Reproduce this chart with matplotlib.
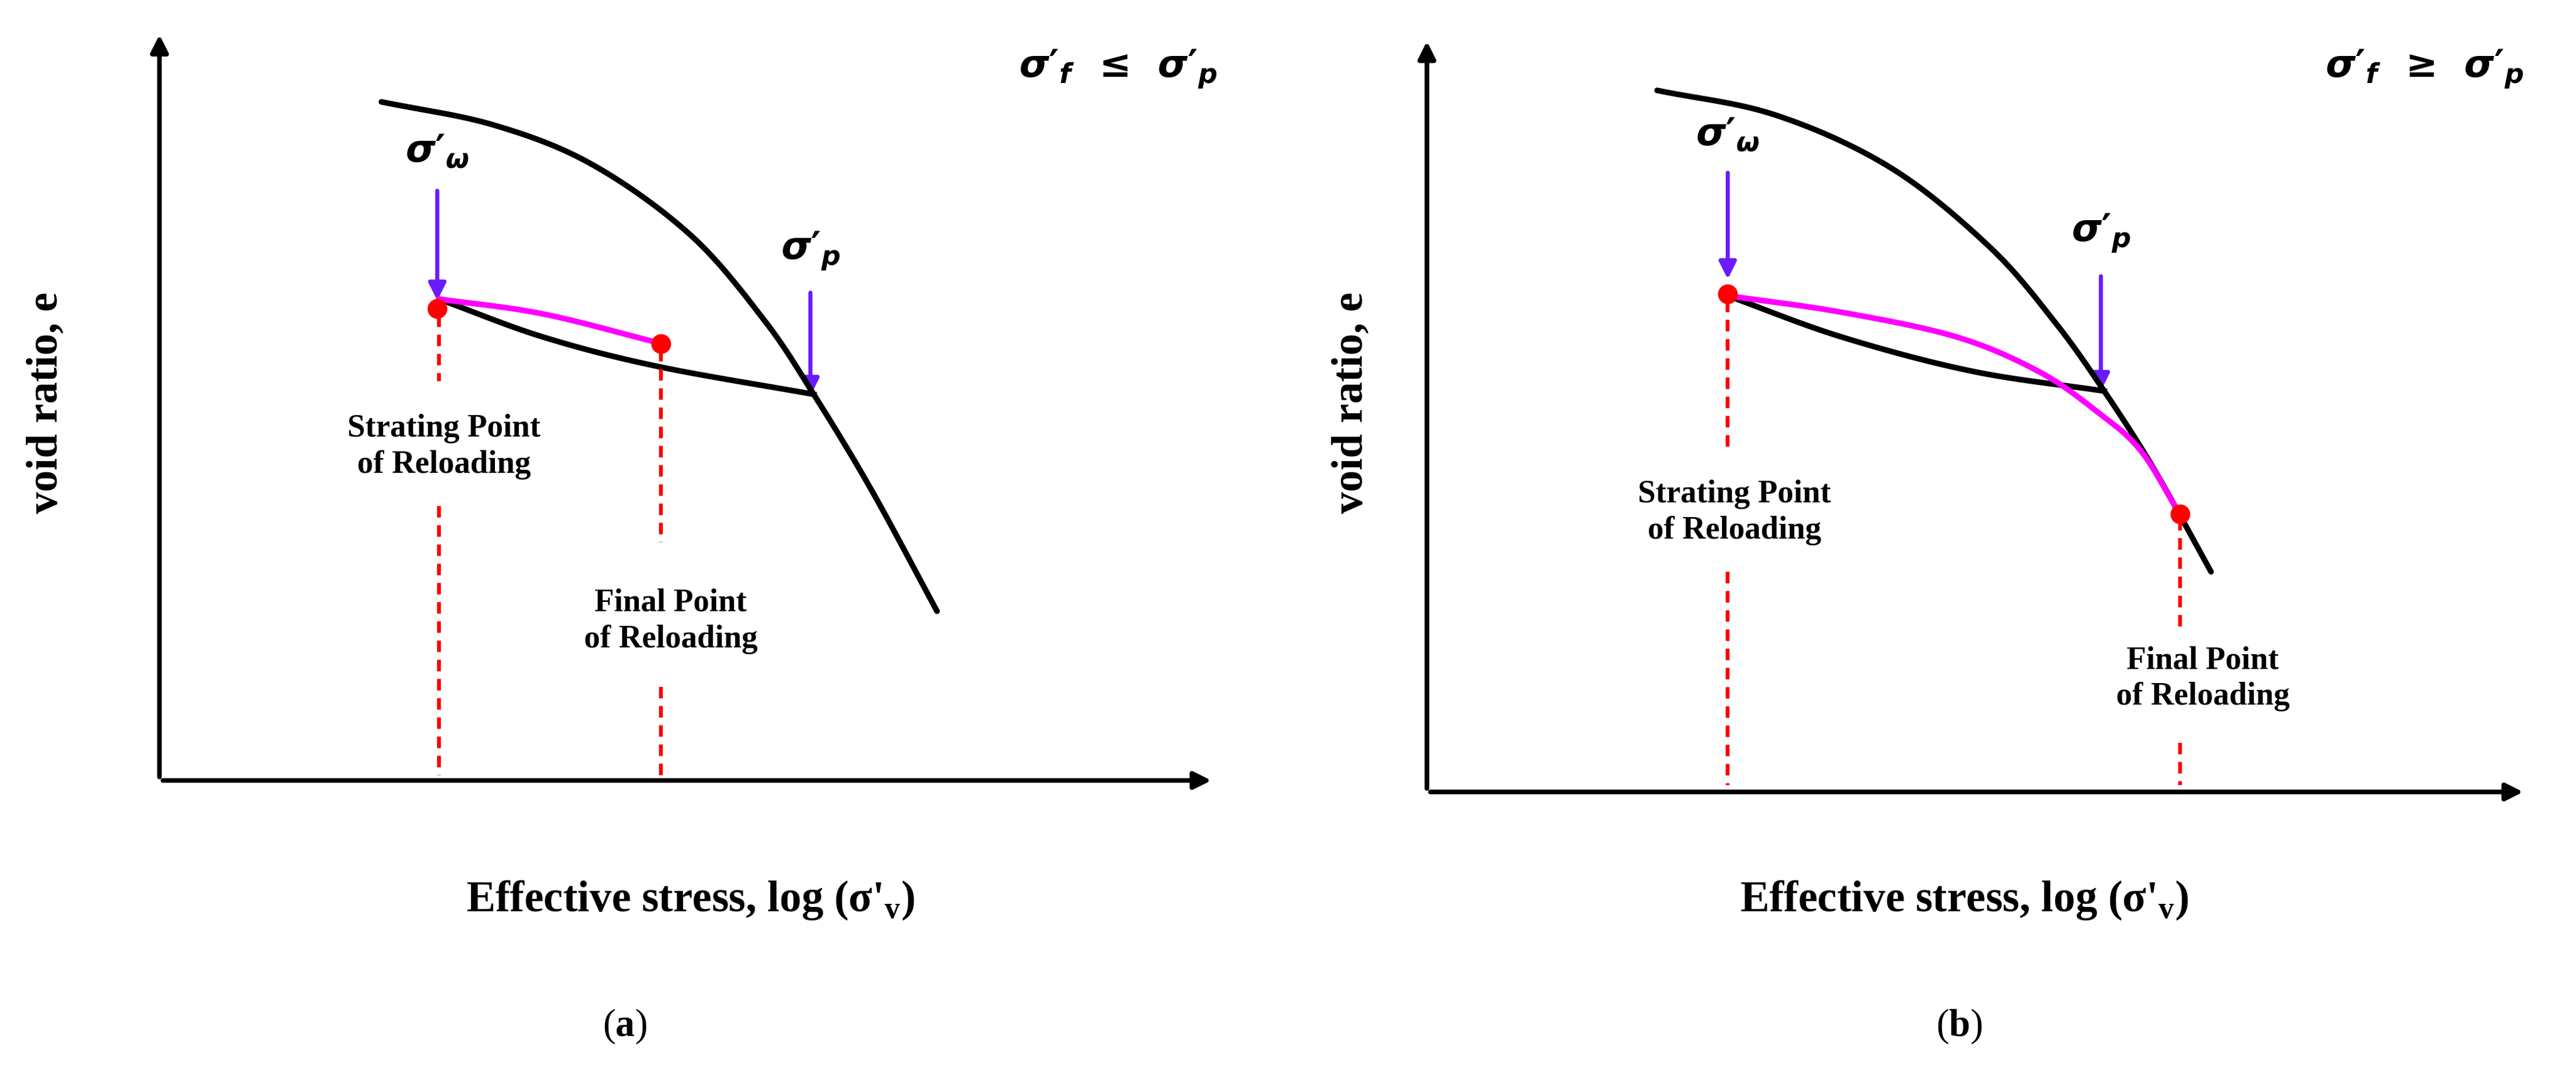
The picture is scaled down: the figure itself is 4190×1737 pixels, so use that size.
import numpy as np
import matplotlib
import matplotlib.pyplot as plt
from matplotlib.patches import FancyArrowPatch

matplotlib.rcParams['mathtext.fontset'] = 'custom'
matplotlib.rcParams['mathtext.it'] = 'DejaVu Sans:italic:bold'
matplotlib.rcParams['mathtext.rm'] = 'DejaVu Sans:bold'
matplotlib.rcParams['mathtext.bf'] = 'Liberation Serif:bold'

# 坐标按参考图(1567x650)像素给出
W, H = 1567, 650
SERIF = 'Liberation Serif'

# ---- (a) ----
a_axis_origin = (97, 475)
a_axis_ends = (740, 18)
a_upper_x = [232, 300, 360, 420, 465, 495, 530, 570]
a_upper_y = [62, 76, 100, 143, 195, 240, 298, 372]
a_lower_x = [267, 330, 400, 495]
a_lower_y = [182, 205, 223, 240]
a_reload_x = [267, 330, 402]
a_reload_y = [182, 191, 209]
a_dots_x = [266, 402]
a_dots_y = [188, 209]

# ---- (b) ----
b_axis_origin = (868, 482)
b_axis_ends = (1538, 22)
b_upper_x = [1008, 1080, 1150, 1210, 1250, 1280, 1310, 1345]
b_upper_y = [55, 70, 102, 150, 196, 238, 285, 348]
b_lower_x = [1051, 1120, 1200, 1280]
b_lower_y = [180, 205, 226, 238]
b_reload_x = [1051, 1120, 1190, 1240, 1275, 1302, 1326]
b_reload_y = [180, 190, 205, 226, 250, 274, 313]
b_dots_x = [1051, 1326]
b_dots_y = [179, 313]

fig = plt.figure(figsize=(4190 / 300, 1737 / 300), dpi=300)
ax = fig.add_axes([0, 0, 1, 1])
ax.set_xlim(0, W)
ax.set_ylim(H, 0)
ax.axis('off')


def smooth(xs, ys, n=30):
    # Catmull-Rom 曲线, 经过每个点
    p = np.column_stack([xs, ys]).astype(float)
    p = np.vstack([2 * p[0] - p[1], p, 2 * p[-1] - p[-2]])
    t = np.linspace(0, 1, n)[:, None]
    out = []
    for i in range(1, len(p) - 2):
        p0, p1, p2, p3 = p[i - 1], p[i], p[i + 1], p[i + 2]
        out.append(0.5 * (2 * p1 + (-p0 + p2) * t + (2 * p0 - 5 * p1 + 4 * p2 - p3) * t ** 2
                          + (-p0 + 3 * p1 - 3 * p2 + p3) * t ** 3))
    out = np.vstack(out)
    return out[:, 0], out[:, 1]


def axes_arrows(origin, ends):
    ax.annotate('', xy=(ends[0], origin[1]), xytext=(origin[0] - 1, origin[1]),
                arrowprops=dict(arrowstyle='-|>', color='black', lw=1.8, mutation_scale=14))
    ax.annotate('', xy=(origin[0], ends[1]), xytext=(origin[0], origin[1] + 1),
                arrowprops=dict(arrowstyle='-|>', color='black', lw=1.8, mutation_scale=14))


def sig(sub):
    return "$\\sigma$′$_{%s}$" % sub


def blue_arrow(x, y0, y1, label, ly):
    ax.add_patch(FancyArrowPatch((x, y0), (x, y1), arrowstyle='-|>', color='#6a1bff',
                                 lw=1.6, mutation_scale=14))
    ax.text(x, ly, label, fontsize=15, ha='center', va='center', fontweight='bold')


def dashed(x, y0, y1, gap0, gap1):
    for s, e in [(y0, gap0), (gap1, y1)]:
        ax.plot([x, x], [s, e], color='red', ls=(0, (3, 2)), lw=1.5)


def panel(origin, ends, ux, uy, lx, ly, rx, ry, dx, dy):
    axes_arrows(origin, ends)
    ax.plot(*smooth(ux, uy), color='black', lw=2.2, solid_capstyle='round')
    ax.plot(*smooth(lx, ly), color='black', lw=2.2)
    ax.plot(*smooth(rx, ry), color='magenta', lw=2.2)
    ax.scatter(dx, dy, s=45, color='red', zorder=5)


panel(a_axis_origin, a_axis_ends, a_upper_x, a_upper_y, a_lower_x, a_lower_y,
      a_reload_x, a_reload_y, a_dots_x, a_dots_y)
panel(b_axis_origin, b_axis_ends, b_upper_x, b_upper_y, b_lower_x, b_lower_y,
      b_reload_x, b_reload_y, b_dots_x, b_dots_y)

dashed(267, 192, 472, 232, 308)
dashed(402, 213, 472, 330, 418)
dashed(1051, 183, 478, 275, 348)
dashed(1326, 316, 478, 382, 452)

blue_arrow(266, 113, 186, sig(r'\omega'), 92)
blue_arrow(493, 175, 244, sig('p'), 153)
blue_arrow(1051, 102, 173, sig(r'\omega'), 82)
blue_arrow(1278, 165, 241, sig('p'), 142)

txt = dict(fontsize=12.5, ha='center', va='center', family=SERIF, fontweight='bold',
           linespacing=1.3)
ax.text(270, 272, 'Strating Point\nof Reloading', **txt)
ax.text(408, 378, 'Final Point\nof Reloading', **txt)
ax.text(1055, 312, 'Strating Point\nof Reloading', **txt)
ax.text(1340, 413, 'Final Point\nof Reloading', **txt)

ax.text(680, 42, sig('f') + '  ≤  ' + sig('p'), fontsize=15, ha='center', va='center', fontweight='bold')
ax.text(1475, 42, sig('f') + '  ≥  ' + sig('p'), fontsize=15, ha='center', va='center', fontweight='bold')

lab = dict(fontsize=17, ha='center', va='center', family=SERIF, fontweight='bold')
ax.text(28, 245, 'void ratio, e', rotation=90, **lab)
ax.text(822, 245, 'void ratio, e', rotation=90, **lab)
ax.text(420, 548, "Effective stress, log (σ'$_\\mathbf{v}$)", **lab)
ax.text(1195, 548, "Effective stress, log (σ'$_\\mathbf{v}$)", **lab)

ax.text(380, 625, r'($\mathbf{a}$)', fontsize=15, ha='center', va='center', family=SERIF)
ax.text(1192, 625, r'($\mathbf{b}$)', fontsize=15, ha='center', va='center', family=SERIF)

plt.savefig('out.png', dpi=300)
